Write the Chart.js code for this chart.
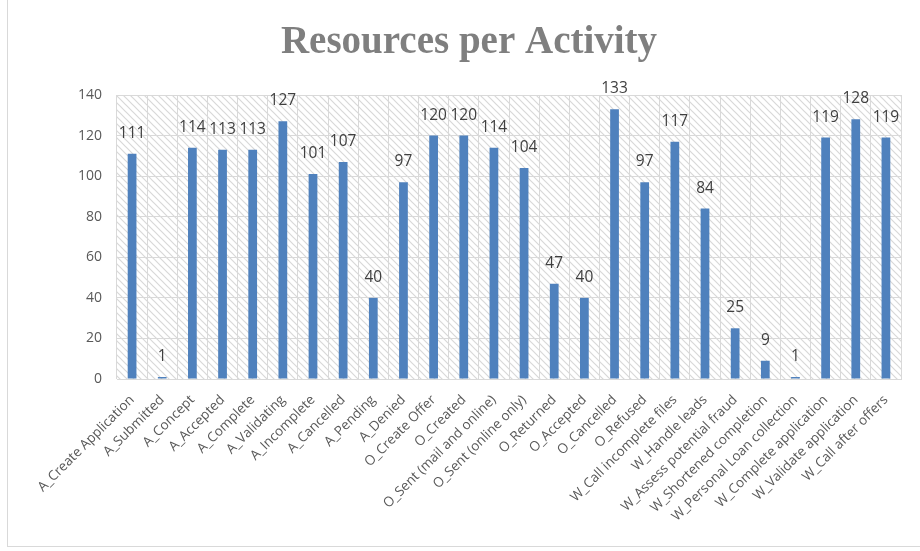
<!DOCTYPE html>
<html>
<head>
<meta charset="utf-8">
<script src="https://cdn.jsdelivr.net/npm/chart.js@4.4.1/dist/chart.umd.min.js"></script>
<style>
  html, body { margin: 0; padding: 0; background: #fff; }
  #wrap { position: relative; width: 920px; height: 551px; }
  #frame { position: absolute; left: 7px; top: -2px; width: 920px; height: 549px;
           border: 1px solid #d9d9d9; box-sizing: border-box; }
  canvas { position: absolute; left: 0; top: 0; }
</style>
</head>
<body>
<div id="wrap">
  <div id="frame"></div>
  <canvas id="chart" width="920" height="551"></canvas>
</div>
<script>
var activities = [
  "A_Create Application", "A_Submitted", "A_Concept", "A_Accepted", "A_Complete",
  "A_Validating", "A_Incomplete", "A_Cancelled", "A_Pending", "A_Denied",
  "O_Create Offer", "O_Created", "O_Sent (mail and online)", "O_Sent (online only)",
  "O_Returned", "O_Accepted", "O_Cancelled", "O_Refused", "W_Call incomplete files",
  "W_Handle leads", "W_Assess potential fraud", "W_Shortened completion",
  "W_Personal Loan collection", "W_Complete application", "W_Validate application",
  "W_Call after offers"
];
var resources = [111, 1, 114, 113, 113, 127, 101, 107, 40, 97, 120, 120, 114, 104,
                 47, 40, 133, 97, 117, 84, 25, 9, 1, 119, 128, 119];
var yTicks = [0, 20, 40, 60, 80, 100, 120, 140];

var chartTitle = "Resources per Activity";
var uiFont = "'Open Sans', sans-serif";

// diagonal hatch used behind the bars
function hatchPattern(ctx) {
  var c = document.createElement('canvas');
  c.width = 7; c.height = 7;
  var p = c.getContext('2d');
  p.fillStyle = '#fff';
  p.fillRect(0, 0, 7, 7);
  p.strokeStyle = '#d8d8d8';
  p.lineWidth = 1.2;
  p.beginPath();
  p.moveTo(-1, -1); p.lineTo(8, 8);
  p.moveTo(-8, -1); p.lineTo(1, 8);
  p.moveTo(6, -1); p.lineTo(15, 8);
  p.stroke();
  return ctx.createPattern(c, 'repeat');
}

var plotBackground = {
  id: 'plotBackground',
  beforeDraw: function (chart) {
    var a = chart.chartArea, ctx = chart.ctx;
    ctx.save();
    ctx.fillStyle = hatchPattern(ctx);
    ctx.fillRect(a.left, a.top, a.right - a.left, a.bottom - a.top);
    ctx.restore();
  }
};

var titleText = {
  id: 'titleText',
  afterDraw: function (chart) {
    var ctx = chart.ctx;
    ctx.save();
    ctx.font = "bold 39px 'Liberation Serif', serif";
    ctx.fillStyle = '#7f7f7f';
    ctx.textAlign = 'center';
    ctx.textBaseline = 'middle';
    ctx.fillText(chartTitle, 469, 43);
    ctx.restore();
  }
};

var valueLabels = {
  id: 'valueLabels',
  afterDatasetsDraw: function (chart) {
    var ctx = chart.ctx;
    var meta = chart.getDatasetMeta(0);
    ctx.save();
    ctx.font = "15.5px " + uiFont;
    ctx.fillStyle = '#404040';
    ctx.textAlign = 'center';
    ctx.textBaseline = 'alphabetic';
    meta.data.forEach(function (bar, i) {
      ctx.fillText(String(resources[i]), bar.x, bar.y - 16);
    });
    ctx.restore();
  }
};

new Chart(document.getElementById('chart').getContext('2d'), {
  type: 'bar',
  data: {
    labels: activities,
    datasets: [{
      label: 'Resources',
      data: resources,
      backgroundColor: '#4f81bd',
      borderWidth: 0,
      barPercentage: 0.29,
      categoryPercentage: 1.0
    }]
  },
  options: {
    responsive: false,
    animation: false,
    layout: { padding: { top: 95, right: 19, left: 0, bottom: 0 } },
    plugins: {
      legend: { display: false },
      tooltip: { enabled: false },
      title: { display: false }
    },
    scales: {
      x: {
        grid: { color: '#d9d9d9', lineWidth: 1, drawTicks: false, offset: true },
        border: { color: '#d9d9d9' },
        ticks: {
          autoSkip: false, maxRotation: 45, minRotation: 45,
          padding: 13,
          color: '#595959',
          font: { family: uiFont, size: 13.5 }
        },
        afterFit: function (scale) { scale.height = 172; }
      },
      y: {
        min: 0, max: 140,
        afterBuildTicks: function (scale) {
          scale.ticks = yTicks.map(function (v) { return { value: v }; });
        },
        grid: { color: '#d9d9d9', lineWidth: 1, drawTicks: false },
        border: { display: false },
        ticks: {
          padding: 15,
          color: '#595959',
          font: { family: uiFont, size: 14 }
        },
        afterFit: function (scale) { scale.width = 117; }
      }
    }
  },
  plugins: [plotBackground, valueLabels, titleText]
});
</script>
</body>
</html>
